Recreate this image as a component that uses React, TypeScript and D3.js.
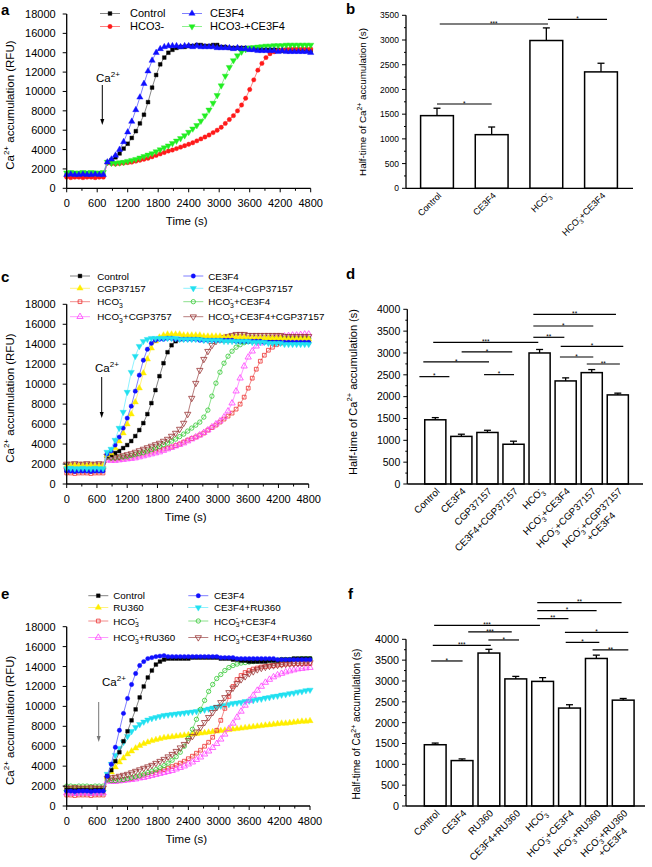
import React from 'react';
import * as d3 from 'd3';

const FONT = "'Liberation Sans', Arial, Helvetica, sans-serif";

// sample times (s) shared by every kinetic trace: 0, 80, ..., 4800
const TIME_S = d3.range(0, 4801, 80);

// ---------- Panel a traces (Ca2+ accumulation, thousands of RFU) ----------
const A_CONTROL = [
  1.35, 1.3, 1.35, 1.3, 1.35, 1.35, 1.3, 1.35, 1.3, 1.35,
  2.7, 2.9, 3.2, 3.6, 4.1, 4.6, 5.2, 5.9, 6.7, 7.6,
  8.9, 10.4, 11.7, 12.8, 13.5, 14.0, 14.3, 14.5, 14.6, 14.6,
  14.7, 14.7, 14.8, 14.8, 14.7, 14.7, 14.8, 14.8, 14.6, 14.6,
  14.5, 14.5, 14.5, 14.5, 14.5, 14.5, 14.4, 14.4, 14.3, 14.3,
  14.3, 14.3, 14.3, 14.2, 14.3, 14.2, 14.2, 14.2, 14.2, 14.2,
  14.2];
const A_CE3F4 = [
  1.4, 1.45, 1.4, 1.4, 1.45, 1.4, 1.4, 1.45, 1.4, 1.4,
  2.7, 3.0, 3.4, 4.0, 4.8, 5.8, 6.9, 8.1, 9.4, 10.8,
  12.1, 13.2, 14.0, 14.4, 14.6, 14.7, 14.7, 14.7, 14.6, 14.7,
  14.7, 14.6, 14.7, 14.6, 14.6, 14.6, 14.6, 14.5, 14.5, 14.5,
  14.5, 14.4, 14.5, 14.4, 14.4, 14.3, 14.3, 14.2, 14.2, 14.2,
  14.2, 14.2, 14.1, 14.2, 14.1, 14.1, 14.1, 14.1, 14.1, 14.1,
  14.0];
const A_HCO3 = [
  1.15, 1.1, 1.15, 1.15, 1.1, 1.15, 1.15, 1.1, 1.15, 1.15,
  2.6, 2.55, 2.5, 2.55, 2.6, 2.65, 2.7, 2.8, 2.9, 3.0,
  3.1, 3.25, 3.4, 3.55, 3.7, 3.85, 3.95, 4.1, 4.25, 4.4,
  4.55, 4.7, 4.9, 5.1, 5.3, 5.5, 5.75, 6.0, 6.3, 6.7,
  7.1, 7.5, 8.0, 8.6, 9.3, 10.2, 11.2, 12.2, 12.9, 13.5,
  13.9, 14.1, 14.25, 14.3, 14.35, 14.4, 14.4, 14.4, 14.4, 14.4,
  14.4];
const A_HCO3_CE3F4 = [
  1.6, 1.65, 1.6, 1.6, 1.65, 1.6, 1.65, 1.6, 1.6, 1.65,
  2.7, 2.6, 2.6, 2.65, 2.7, 2.8, 2.9, 3.0, 3.15, 3.3,
  3.45, 3.6, 3.8, 4.0, 4.2, 4.4, 4.65, 4.9, 5.15, 5.45,
  5.8, 6.15, 6.5, 6.95, 7.5, 8.1, 8.8, 9.6, 10.6, 11.6,
  12.5, 13.2, 13.7, 14.1, 14.35, 14.5, 14.55, 14.6, 14.65, 14.7,
  14.7, 14.75, 14.75, 14.75, 14.8, 14.8, 14.8, 14.8, 14.8, 14.8,
  14.8];

// ---------- Panel c traces ----------
const C_CONTROL = [
  1.4, 1.4, 1.45, 1.4, 1.4, 1.45, 1.4, 1.4, 1.45, 1.4,
  2.8, 2.9, 3.1, 3.3, 3.6, 3.9, 4.3, 4.8, 5.4, 6.1,
  7.0, 8.1, 9.4, 10.8, 12.1, 13.2, 13.9, 14.3, 14.5, 14.6,
  14.6, 14.6, 14.6, 14.6, 14.5, 14.5, 14.5, 14.5, 14.4, 14.4,
  14.4, 14.4, 14.4, 14.3, 14.3, 14.3, 14.3, 14.3, 14.3, 14.3,
  14.3, 14.2, 14.2, 14.2, 14.2, 14.2, 14.2, 14.2, 14.2, 14.2,
  14.2];
const C_CE3F4 = [
  1.3, 1.3, 1.25, 1.3, 1.3, 1.3, 1.25, 1.3, 1.3, 1.3,
  3.0, 3.3, 3.9, 4.7, 5.6, 6.6, 7.8, 9.3, 10.9, 12.4,
  13.5, 14.1, 14.4, 14.5, 14.5, 14.6, 14.6, 14.5, 14.5, 14.5,
  14.5, 14.5, 14.5, 14.4, 14.4, 14.4, 14.4, 14.4, 14.4, 14.4,
  14.4, 14.4, 14.3, 14.3, 14.3, 14.3, 14.3, 14.3, 14.3, 14.2,
  14.2, 14.2, 14.2, 14.2, 14.2, 14.2, 14.2, 14.2, 14.2, 14.2,
  14.2];
const C_CGP = [
  1.8, 1.8, 1.85, 1.8, 1.8, 1.8, 1.85, 1.8, 1.8, 1.8,
  2.9, 3.1, 3.6, 4.3, 5.1, 6.0, 7.0, 8.2, 9.6, 11.1,
  12.5, 13.6, 14.3, 14.7, 14.9, 15.0, 15.0, 15.0, 15.0, 14.9,
  14.9, 14.9, 14.9, 14.9, 14.8, 14.8, 14.8, 14.8, 14.8, 14.7,
  14.7, 14.7, 14.7, 14.7, 14.7, 14.6, 14.6, 14.6, 14.6, 14.6,
  14.6, 14.6, 14.6, 14.6, 14.5, 14.5, 14.5, 14.5, 14.5, 14.5,
  14.5];
const C_CE3F4_CGP = [
  1.55, 1.6, 1.55, 1.55, 1.6, 1.55, 1.55, 1.6, 1.55, 1.55,
  3.2, 3.5, 4.4, 5.6, 7.2, 9.2, 11.2, 12.8, 13.8, 14.3,
  14.5, 14.6, 14.6, 14.6, 14.6, 14.6, 14.6, 14.6, 14.5, 14.5,
  14.5, 14.5, 14.5, 14.5, 14.4, 14.4, 14.4, 14.4, 14.4, 14.3,
  14.3, 14.3, 14.3, 14.3, 14.3, 14.3, 14.2, 14.2, 14.2, 14.2,
  14.1, 14.1, 14.1, 14.1, 14.0, 14.0, 14.0, 14.0, 14.0, 14.0,
  14.0];
const C_HCO3 = [
  1.1, 1.1, 1.05, 1.1, 1.1, 1.1, 1.05, 1.1, 1.1, 1.1,
  2.6, 2.5, 2.5, 2.55, 2.6, 2.65, 2.7, 2.8, 2.9, 3.0,
  3.1, 3.2, 3.3, 3.4, 3.5, 3.6, 3.7, 3.85, 4.0, 4.2,
  4.4, 4.55, 4.7, 4.9, 5.1, 5.4, 5.65, 5.9, 6.2, 6.5,
  6.8, 7.1, 7.5, 8.0, 8.7, 9.6, 10.6, 11.5, 12.3, 12.9,
  13.4, 13.7, 13.95, 14.1, 14.2, 14.3, 14.4, 14.4, 14.5, 14.5,
  14.5];
const C_HCO3_CE3F4 = [
  1.5, 1.55, 1.5, 1.5, 1.55, 1.5, 1.5, 1.55, 1.5, 1.5,
  2.7, 2.6, 2.6, 2.65, 2.7, 2.75, 2.85, 2.95, 3.05, 3.15,
  3.3, 3.45, 3.6, 3.75, 3.95, 4.1, 4.3, 4.5, 4.75, 5.0,
  5.3, 5.6, 5.9, 6.2, 6.7, 7.4, 8.8, 10.1, 11.2, 12.1,
  12.8, 13.3, 13.7, 13.95, 14.15, 14.3, 14.4, 14.45, 14.5, 14.5,
  14.5, 14.55, 14.55, 14.6, 14.6, 14.6, 14.6, 14.6, 14.6, 14.6,
  14.6];
const C_HCO3_CGP = [
  1.7, 1.7, 1.75, 1.7, 1.7, 1.7, 1.75, 1.7, 1.7, 1.7,
  2.4, 2.35, 2.35, 2.4, 2.45, 2.5, 2.55, 2.6, 2.7, 2.8,
  2.9, 3.0, 3.1, 3.2, 3.35, 3.5, 3.65, 3.8, 3.95, 4.1,
  4.3, 4.5, 4.7, 4.9, 5.15, 5.4, 5.7, 6.0, 6.3, 6.7,
  7.3, 8.1, 9.3, 10.6, 11.8, 12.7, 13.3, 13.8, 14.1, 14.3,
  14.5, 14.6, 14.7, 14.75, 14.8, 14.85, 14.9, 14.9, 14.95, 15.0,
  15.0];
const C_HCO3_CE3F4_CGP = [
  2.0, 2.0, 2.05, 2.0, 2.0, 2.05, 2.0, 2.0, 2.05, 2.0,
  2.8, 2.7, 2.7, 2.75, 2.85, 2.95, 3.05, 3.2, 3.35, 3.5,
  3.65, 3.8, 3.95, 4.1, 4.3, 4.5, 4.8, 5.1, 5.5, 6.1,
  7.0, 8.6, 10.1, 11.4, 12.5, 13.3, 13.9, 14.3, 14.5, 14.7,
  14.8, 14.9, 15.0, 15.0, 15.0, 14.9, 14.9, 14.9, 14.9, 14.9,
  14.9, 14.9, 14.9, 14.9, 14.8, 14.8, 14.8, 14.8, 14.8, 14.8,
  14.8];

// ---------- Panel e traces ----------
const E_CONTROL = [
  1.6, 1.6, 1.55, 1.6, 1.6, 1.6, 1.55, 1.6, 1.6, 1.6,
  3.0, 3.6, 4.5, 5.4, 6.5, 7.5, 8.6, 9.7, 10.9, 12.0,
  12.9, 13.6, 14.2, 14.5, 14.7, 14.8, 14.8, 14.8, 14.8, 14.8,
  14.8, 14.9, 14.9, 14.9, 14.9, 14.9, 14.9, 14.9, 14.8, 14.8,
  14.8, 14.7, 14.7, 14.6, 14.6, 14.5, 14.5, 14.5, 14.5, 14.5,
  14.6, 14.6, 14.6, 14.7, 14.7, 14.7, 14.8, 14.8, 14.8, 14.8,
  14.8];
const E_CE3F4 = [
  1.5, 1.5, 1.45, 1.5, 1.5, 1.5, 1.45, 1.5, 1.5, 1.5,
  3.0, 4.2, 5.9, 7.6, 9.3, 10.8, 12.2, 13.3, 14.1, 14.5,
  14.8, 14.9, 15.0, 15.05, 15.1, 15.0, 15.0, 15.0, 15.0, 15.0,
  15.0, 15.0, 15.0, 15.0, 15.0, 15.0, 15.0, 15.0, 14.9, 14.9,
  14.9, 14.9, 14.8, 14.8, 14.8, 14.8, 14.8, 14.8, 14.8, 14.8,
  14.8, 14.8, 14.7, 14.7, 14.7, 14.7, 14.7, 14.7, 14.7, 14.7,
  14.7];
const E_RU360 = [
  1.7, 1.7, 1.75, 1.7, 1.7, 1.7, 1.75, 1.7, 1.7, 1.7,
  2.9, 3.4, 3.9, 4.4, 4.8, 5.2, 5.5, 5.8, 6.05, 6.25,
  6.4, 6.55, 6.65, 6.75, 6.85, 6.9, 6.95, 7.0, 7.05, 7.1,
  7.15, 7.2, 7.25, 7.3, 7.35, 7.4, 7.45, 7.5, 7.55, 7.6,
  7.65, 7.7, 7.75, 7.8, 7.85, 7.9, 7.95, 8.0, 8.05, 8.1,
  8.15, 8.2, 8.25, 8.3, 8.3, 8.35, 8.4, 8.45, 8.5, 8.5,
  8.55];
const E_CE3F4_RU360 = [
  1.4, 1.4, 1.35, 1.4, 1.4, 1.4, 1.35, 1.4, 1.4, 1.4,
  3.2, 4.2, 5.1, 5.8, 6.4, 7.0, 7.5, 7.9, 8.2, 8.45,
  8.65, 8.8, 8.9, 9.0, 9.1, 9.15, 9.2, 9.25, 9.3, 9.35,
  9.4, 9.45, 9.5, 9.6, 9.65, 9.75, 9.85, 9.95, 10.05, 10.1,
  10.2, 10.3, 10.35, 10.4, 10.5, 10.55, 10.6, 10.7, 10.75, 10.85,
  10.9, 11.0, 11.05, 11.15, 11.2, 11.3, 11.35, 11.45, 11.5, 11.6,
  11.65];
const E_HCO3 = [
  1.1, 1.1, 1.05, 1.1, 1.1, 1.1, 1.05, 1.1, 1.1, 1.1,
  2.6, 2.55, 2.55, 2.6, 2.65, 2.7, 2.75, 2.85, 2.95, 3.05,
  3.15, 3.25, 3.35, 3.5, 3.65, 3.8, 3.95, 4.1, 4.3, 4.5,
  4.75, 5.0, 5.3, 5.6, 6.0, 6.4, 6.9, 7.6, 8.6, 9.8,
  11.0, 12.0, 12.7, 13.1, 13.4, 13.6, 13.75, 13.85, 13.95, 14.0,
  14.05, 14.1, 14.15, 14.2, 14.25, 14.25, 14.3, 14.3, 14.3, 14.3,
  14.3];
const E_HCO3_CE3F4 = [
  2.0, 2.0, 1.95, 2.0, 2.0, 2.0, 1.95, 2.0, 2.0, 2.0,
  2.6, 2.55, 2.55, 2.6, 2.65, 2.75, 2.85, 2.95, 3.05, 3.2,
  3.35, 3.5, 3.65, 3.85, 4.05, 4.3, 4.6, 4.95, 5.4, 6.0,
  6.8, 7.7, 8.7, 9.7, 10.6, 11.5, 12.2, 12.8, 13.2, 13.6,
  13.9, 14.1, 14.25, 14.35, 14.4, 14.45, 14.5, 14.55, 14.6, 14.6,
  14.6, 14.65, 14.65, 14.7, 14.7, 14.7, 14.75, 14.75, 14.8, 14.8,
  14.8];
const E_HCO3_RU360 = [
  1.3, 1.3, 1.25, 1.3, 1.3, 1.3, 1.25, 1.3, 1.3, 1.3,
  2.5, 2.45, 2.45, 2.5, 2.55, 2.6, 2.65, 2.7, 2.8, 2.85,
  2.95, 3.05, 3.15, 3.25, 3.35, 3.45, 3.55, 3.7, 3.85, 4.0,
  4.2, 4.4, 4.65, 4.9, 5.2, 5.5, 5.85, 6.25, 6.7, 7.2,
  7.75, 8.3, 8.9, 9.5, 10.1, 10.6, 11.1, 11.6, 12.0, 12.4,
  12.7, 12.95, 13.15, 13.3, 13.45, 13.55, 13.65, 13.75, 13.8, 13.85,
  13.9];
const E_HCO3_CE3F4_RU360 = [
  1.8, 1.8, 1.85, 1.8, 1.8, 1.8, 1.85, 1.8, 1.8, 1.8,
  2.8, 2.85, 2.9, 3.0, 3.1, 3.2, 3.35, 3.5, 3.65, 3.8,
  3.95, 4.1, 4.3, 4.5, 4.7, 4.95, 5.2, 5.5, 5.85, 6.2,
  6.6, 7.0, 7.45, 7.9, 8.4, 8.9, 9.4, 9.9, 10.4, 10.9,
  11.4, 11.85, 12.3, 12.7, 13.0, 13.3, 13.5, 13.7, 13.85, 13.95,
  14.05, 14.1, 14.15, 14.2, 14.25, 14.3, 14.3, 14.35, 14.35, 14.4,
  14.4];

// ---------- Bar panels (half-time, s) ----------
const B_CATS = ['Control', 'CE3F4', 'HCO_3^-', 'HCO_3^-+CE3F4'];
const B_MEAN = [1470, 1085, 2990, 2355];
const B_ERR = [150, 155, 255, 175];
// [from category index, to category index, height (s), label]
const B_SIG: [number, number, number, string][] = [
  [0.05, 2.03, 3324, '***'],
  [2.03, 3.11, 3419, '*'],
  [0.0, 1.0, 1705, '*'],
];

const D_CATS = ['Control', 'CE3F4', 'CGP37157', 'CE3F4+CGP37157', 'HCO_3^-', 'HCO_3^-+CE3F4', 'HCO_3^-+CGP37157', 'HCO_3^-+CGP37157\n+CE3F4'];
const D_MEAN = [1470, 1090, 1180, 910, 3000, 2360, 2550, 2040];
const D_ERR = [50, 50, 50, 70, 80, 70, 70, 40];
const D_SIG: [number, number, number, string][] = [
  [-0.61, 0.54, 2458, '*'],
  [-0.46, 2.06, 2794, '*'],
  [1.01, 2.95, 3023, '*'],
  [1.87, 3.02, 2504, '*'],
  [-0.08, 3.95, 3244, '***'],
  [3.76, 6.93, 3885, '**'],
  [3.76, 6.06, 3618, '*'],
  [3.76, 4.95, 3359, '**'],
  [4.81, 7.21, 3153, '*'],
  [4.78, 6.06, 2908, '*'],
  [5.81, 7.08, 2748, '**'],
];

const F_CATS = ['Control', 'CE3F4', 'RU360', 'CE3F4+RU360', 'HCO_3^-', 'HCO_3^-+CE3F4', 'HCO_3^-+RU360', 'HCO_3^-+RU360\n+CE3F4'];
const F_MEAN = [1470, 1090, 3670, 3050, 2990, 2350, 3540, 2540];
const F_ERR = [40, 40, 90, 60, 90, 80, 80, 40];
const F_SIG: [number, number, number, string][] = [
  [-0.15, 1.02, 3480, '*'],
  [-0.09, 2.07, 3856, '***'],
  [1.23, 2.85, 4176, '***'],
  [1.98, 3.12, 3984, '*'],
  [-0.04, 3.9, 4336, '***'],
  [3.8, 6.94, 4880, '**'],
  [3.8, 6.01, 4688, '*'],
  [3.8, 4.96, 4496, '**'],
  [4.83, 7.19, 4168, '*'],
  [4.86, 6.11, 3928, '*'],
  [5.86, 7.19, 3744, '**'],
];

// ---------- helpers ----------
type Seg = { t: string; k: 'n' | 'sub' | 'sup' };
function parseRich(s: string): Seg[] {
  const segs: Seg[] = [];
  let i = 0;
  let buf = '';
  while (i < s.length) {
    const c = s[i];
    if (c === '_' || c === '^') {
      if (buf) { segs.push({ t: buf, k: 'n' }); buf = ''; }
      let t = '';
      if (s[i + 1] === '{') {
        const j = s.indexOf('}', i);
        t = s.slice(i + 2, j);
        i = j + 1;
      } else {
        t = s[i + 1];
        i += 2;
      }
      segs.push({ t, k: c === '_' ? 'sub' : 'sup' });
    } else {
      buf += c;
      i++;
    }
  }
  if (buf) segs.push({ t: buf, k: 'n' });
  return segs;
}

let _ctx: CanvasRenderingContext2D | null = null;
function measure(s: string, fs: number): number {
  if (!_ctx) _ctx = document.createElement('canvas').getContext('2d');
  if (!_ctx) return s.length * fs * 0.55;
  let w = 0;
  for (const sg of parseRich(s)) {
    const f = sg.k === 'n' ? fs : fs * 0.7;
    _ctx.font = `${f}px ${FONT}`;
    if (sg.k === 'sup' && w > 0) continue;
    w += _ctx.measureText(sg.t).width;
  }
  return w;
}

function Rich(props: { text: string; fs: number; [k: string]: any }) {
  const { text, fs, ...rest } = props;
  const segs = parseRich(text);
  let cur = 0;
  const out: any[] = [];
  segs.forEach((sg, i) => {
    const small = sg.k !== 'n';
    const target = sg.k === 'sub' ? 0.3 * fs : sg.k === 'sup' ? -0.42 * fs : 0;
    const dy = target - cur;
    cur = target;
    let dx = 0;
    if (sg.k === 'sup' && i > 0 && segs[i - 1].k === 'sub') dx = -0.39 * fs * segs[i - 1].t.length;
    if (sg.k === 'n' && i > 1 && segs[i - 1].k === 'sup' && segs[i - 2].k === 'sub') dx = 0.16 * fs;
    out.push(
      <tspan key={i} dy={dy ? dy : undefined} dx={dx ? dx : undefined} fontSize={small ? 0.7 * fs : fs}>
        {sg.t}
      </tspan>
    );
  });
  return (
    <text fontFamily={FONT} fontSize={fs} {...rest}>
      {out}
    </text>
  );
}

type Marker = 'square' | 'circle' | 'tri' | 'itri';
const SYM: Record<Marker, string> = {
  square: d3.symbol(d3.symbolSquare, 14)() as string,
  circle: d3.symbol(d3.symbolCircle, 15)() as string,
  tri: d3.symbol(d3.symbolTriangle, 17)() as string,
  itri: d3.symbol(d3.symbolTriangle, 17)() as string,
};

type SeriesDef = {
  name: string;
  values: number[];
  color: string;
  line: string;
  marker: Marker;
  open: boolean;
  row: number;
  col: number;
};

function MarkerAt({ m, x, y, color, open }: { m: Marker; x: number; y: number; color: string; open: boolean }) {
  return (
    <path
      d={SYM[m]}
      transform={`translate(${x},${y})${m === 'itri' ? ' rotate(180)' : ''}`}
      fill={open ? 'none' : color}
      stroke={color}
      strokeWidth={open ? 0.8 : 0.4}
    />
  );
}

type LineLayout = { l: number; r: number; t: number; b: number };

function LinePanel(props: {
  L: LineLayout;
  series: SeriesDef[];
  legendRows: number[];
  legendCols: { x1: number; x2: number; tx: number }[];
  legendFs: number;
  arrow: { x: number; y1: number; y2: number; tx: number; ty: number; color: string };
  letter: string;
  letterPos: [number, number];
}) {
  const { L, series } = props;
  const x = d3.scaleLinear().domain([0, 4800]).range([L.l, L.r]);
  const y = d3.scaleLinear().domain([0, 18]).range([L.b, L.t]);
  const line = d3.line<number>().x((_, i) => x(TIME_S[i])).y((v) => y(v));
  const xMajor = d3.range(0, 4801, 600);
  const xMinor = d3.range(300, 4800, 600);
  const yMajor = d3.range(0, 18.1, 2);
  const a = props.arrow;
  return (
    <g>
      <text x={props.letterPos[0]} y={props.letterPos[1]} fontFamily={FONT} fontWeight="bold" fontSize={15}>
        {props.letter}
      </text>
      {series.map((s) => (
        <g key={s.name}>
          <path d={line(s.values) || ''} fill="none" stroke={s.line} strokeWidth={0.9} />
          {s.values.map((v, i) => (
            <MarkerAt key={i} m={s.marker} x={x(TIME_S[i])} y={y(v)} color={s.color} open={s.open} />
          ))}
        </g>
      ))}
      {/* axes */}
      <line x1={L.l} x2={L.r} y1={L.b} y2={L.b} stroke="#000" strokeWidth={1.3} />
      <line x1={L.l} x2={L.l} y1={L.b} y2={L.t} stroke="#000" strokeWidth={1.3} />
      {xMajor.map((v) => (
        <g key={'xm' + v}>
          <line x1={x(v)} x2={x(v)} y1={L.b} y2={L.b + 4} stroke="#000" strokeWidth={1} />
          <text x={x(v)} y={L.b + 19} textAnchor="middle" fontFamily={FONT} fontSize={11}>
            {v}
          </text>
        </g>
      ))}
      {xMinor.map((v) => (
        <line key={'xn' + v} x1={x(v)} x2={x(v)} y1={L.b} y2={L.b + 2.5} stroke="#000" strokeWidth={1} />
      ))}
      {yMajor.map((v) => (
        <g key={'ym' + v}>
          <line x1={L.l - 4} x2={L.l} y1={y(v)} y2={y(v)} stroke="#000" strokeWidth={1} />
          <text x={L.l - 11} y={y(v) + 4} textAnchor="end" fontFamily={FONT} fontSize={11}>
            {Math.round(v * 1000)}
          </text>
        </g>
      ))}
      <text x={(L.l + L.r) / 2 - 2} y={L.b + 37} textAnchor="middle" fontFamily={FONT} fontSize={11.5}>
        Time (s)
      </text>
      <Rich
        text="Ca^{2+} accumulation (RFU)"
        fs={11.5}
        textAnchor="middle"
        transform={`translate(14,${(L.t + L.b) / 2 + 4}) rotate(-90)`}
      />
      {/* Ca2+ addition arrow */}
      <Rich text="Ca^{2+}" fs={11.5} x={a.tx} y={a.ty} />
      <line x1={a.x} x2={a.x} y1={a.y1} y2={a.y2 - 5} stroke={a.color} strokeWidth={1} />
      <path d={`M${a.x - 2},${a.y2 - 6} L${a.x + 2},${a.y2 - 6} L${a.x},${a.y2} Z`} fill={a.color} />
      {/* legend */}
      {series.map((s) => {
        const c = props.legendCols[s.col];
        const ly = props.legendRows[s.row];
        return (
          <g key={'lg' + s.name}>
            <line x1={c.x1} x2={c.x2} y1={ly} y2={ly} stroke={s.line} strokeWidth={0.9} />
            <MarkerAt m={s.marker} x={(c.x1 + c.x2) / 2} y={ly} color={s.color} open={s.open} />
            <Rich text={s.name} fs={props.legendFs} x={c.tx} y={ly + props.legendFs * 0.36} />
          </g>
        );
      })}
    </g>
  );
}

type BarLayout = { ax: number; xEnd: number; t: number; b: number; c0: number; cN: number; pad: number; max: number };

function BarPanel(props: {
  L: BarLayout;
  cats: string[];
  mean: number[];
  err: number[];
  sig: [number, number, number, string][];
  tickFs: number;
  catFs: number;
  ylabFs: number;
  ylab: [number, number];
  letter: string;
  letterPos: [number, number];
}) {
  const { L, cats } = props;
  const n = cats.length;
  const step = (L.cN - L.c0) / (n - 1);
  const xb = d3
    .scaleBand<string>()
    .domain(cats)
    .range([L.c0 - step / 2, L.cN + step / 2])
    .paddingInner(L.pad)
    .paddingOuter(L.pad / 2);
  const bw = xb.bandwidth();
  const y = d3.scaleLinear().domain([0, L.max]).range([L.b, L.t]);
  const xi = d3
    .scaleLinear()
    .domain([0, n - 1])
    .range([(xb(cats[0]) as number) + bw / 2, (xb(cats[n - 1]) as number) + bw / 2]);
  const major = d3.range(0, L.max + 1, 500);
  const minor = d3.range(250, L.max, 500);
  return (
    <g>
      <text x={props.letterPos[0]} y={props.letterPos[1]} fontFamily={FONT} fontWeight="bold" fontSize={15}>
        {props.letter}
      </text>
      {cats.map((c, i) => {
        const x0 = xb(c) as number;
        const cx = x0 + bw / 2;
        const top = y(props.mean[i]);
        const et = y(props.mean[i] + props.err[i]);
        return (
          <g key={c}>
            <line x1={cx} x2={cx} y1={top} y2={et} stroke="#000" strokeWidth={1.3} />
            <line x1={cx - 3.5} x2={cx + 3.5} y1={et} y2={et} stroke="#000" strokeWidth={1.3} />
            <rect x={x0} y={top} width={bw} height={L.b - top} fill="#fff" stroke="#000" strokeWidth={1.5} />
          </g>
        );
      })}
      <line x1={L.ax} x2={L.xEnd} y1={L.b} y2={L.b} stroke="#000" strokeWidth={1.3} />
      <line x1={L.ax} x2={L.ax} y1={L.b} y2={L.t} stroke="#000" strokeWidth={1.3} />
      {major.map((v) => (
        <g key={'m' + v}>
          <line x1={L.ax - 4} x2={L.ax} y1={y(v)} y2={y(v)} stroke="#000" strokeWidth={1} />
          <text x={L.ax - 7} y={y(v) + props.tickFs * 0.36} textAnchor="end" fontFamily={FONT} fontSize={props.tickFs}>
            {v}
          </text>
        </g>
      ))}
      {minor.map((v) => (
        <line key={'n' + v} x1={L.ax - 2} x2={L.ax} y1={y(v)} y2={y(v)} stroke="#000" strokeWidth={1} />
      ))}
      {props.sig.map(([a, b, h, lab], i) => (
        <g key={'s' + i}>
          <line x1={xi(a)} x2={xi(b)} y1={y(h)} y2={y(h)} stroke="#000" strokeWidth={1.2} />
          <text x={(xi(a) + xi(b)) / 2} y={y(h) + 1.8} textAnchor="middle" fontFamily={FONT} fontSize={6.5}>
            {lab}
          </text>
        </g>
      ))}
      {cats.map((c) => {
        const cx = (xb(c) as number) + bw / 2;
        const parts = c.split('\n');
        const w1 = measure(parts[0], props.catFs);
        return (
          <g key={'l' + c} transform={`translate(${cx + 5},${L.b + 8}) rotate(-45)`}>
            <Rich text={parts[0]} fs={props.catFs} textAnchor="end" />
            {parts[1] ? (
              <Rich
                text={parts[1]}
                fs={props.catFs}
                textAnchor="middle"
                x={-w1 / 2}
                y={props.catFs * 1.25}
              />
            ) : null}
          </g>
        );
      })}
      <Rich
        text="Half-time of Ca^{2+} accumulation (s)"
        fs={props.ylabFs}
        textAnchor="middle"
        transform={`translate(${props.ylab[0]},${props.ylab[1]}) rotate(-90)`}
      />
    </g>
  );
}

// ---------- series styling ----------
const BLACK = '#000000', RED = '#ff1a1a', BLUE = '#1010ff', GREEN = '#22ee22';
const YELLOW = '#ffee00', CYAN = '#22e0f0', ORED = '#ee3030', OGREEN = '#30c830', MAGENTA = '#ff40ff', BROWN = '#993333';

const A_SERIES: SeriesDef[] = [
  { name: 'Control', values: A_CONTROL, color: BLACK, line: '#777', marker: 'square', open: false, row: 0, col: 0 },
  { name: 'HCO3-', values: A_HCO3, color: RED, line: '#ff7070', marker: 'circle', open: false, row: 1, col: 0 },
  { name: 'HCO3-+CE3F4', values: A_HCO3_CE3F4, color: GREEN, line: '#80ee80', marker: 'itri', open: false, row: 1, col: 1 },
  { name: 'CE3F4', values: A_CE3F4, color: BLUE, line: '#7070ff', marker: 'tri', open: false, row: 0, col: 1 },
];

const C_SERIES: SeriesDef[] = [
  { name: 'HCO_3^-', values: C_HCO3, color: ORED, line: '#f08080', marker: 'square', open: true, row: 2, col: 0 },
  { name: 'HCO_3^-+CGP3757', values: C_HCO3_CGP, color: MAGENTA, line: '#ff90ff', marker: 'tri', open: true, row: 3, col: 0 },
  { name: 'HCO_3^-+CE3F4', values: C_HCO3_CE3F4, color: OGREEN, line: '#80dd80', marker: 'circle', open: true, row: 2, col: 1 },
  { name: 'HCO_3^-+CE3F4+CGP37157', values: C_HCO3_CE3F4_CGP, color: BROWN, line: '#b07070', marker: 'itri', open: true, row: 3, col: 1 },
  { name: 'Control', values: C_CONTROL, color: BLACK, line: '#777', marker: 'square', open: false, row: 0, col: 0 },
  { name: 'CGP37157', values: C_CGP, color: YELLOW, line: '#fff070', marker: 'tri', open: false, row: 1, col: 0 },
  { name: 'CE3F4', values: C_CE3F4, color: BLUE, line: '#7070ff', marker: 'circle', open: false, row: 0, col: 1 },
  { name: 'CE3F4+CGP37157', values: C_CE3F4_CGP, color: CYAN, line: '#80f0ff', marker: 'itri', open: false, row: 1, col: 1 },
];

const E_SERIES: SeriesDef[] = [
  { name: 'RU360', values: E_RU360, color: YELLOW, line: '#fff070', marker: 'tri', open: false, row: 1, col: 0 },
  { name: 'CE3F4+RU360', values: E_CE3F4_RU360, color: CYAN, line: '#80f0ff', marker: 'itri', open: false, row: 1, col: 1 },
  { name: 'HCO_3^-', values: E_HCO3, color: ORED, line: '#f08080', marker: 'square', open: true, row: 2, col: 0 },
  { name: 'HCO_3^-+RU360', values: E_HCO3_RU360, color: MAGENTA, line: '#ff90ff', marker: 'tri', open: true, row: 3, col: 0 },
  { name: 'HCO_3^-+CE3F4', values: E_HCO3_CE3F4, color: OGREEN, line: '#80dd80', marker: 'circle', open: true, row: 2, col: 1 },
  { name: 'HCO_3^-+CE3F4+RU360', values: E_HCO3_CE3F4_RU360, color: BROWN, line: '#b07070', marker: 'itri', open: true, row: 3, col: 1 },
  { name: 'Control', values: E_CONTROL, color: BLACK, line: '#777', marker: 'square', open: false, row: 0, col: 0 },
  { name: 'CE3F4', values: E_CE3F4, color: BLUE, line: '#7070ff', marker: 'circle', open: false, row: 0, col: 1 },
];

export default function App() {
  return (
    <svg
      width={652}
      height={867}
      viewBox="0 0 652 867"
      style={{ position: 'absolute', left: 0, top: 0, background: '#fff', display: 'block' }}
    >
      <rect x={0} y={0} width={652} height={867} fill="#fff" />
      <LinePanel
        L={{ l: 66.7, r: 310.7, t: 14, b: 188.3 }}
        series={A_SERIES}
        legendRows={[13.5, 26.5]}
        legendCols={[{ x1: 100, x2: 120, tx: 130 }, { x1: 182, x2: 202, tx: 210 }]}
        legendFs={11}
        arrow={{ x: 102.3, y1: 85, y2: 125, tx: 96, ty: 82, color: '#000' }}
        letter="a"
        letterPos={[1, 15]}
      />
      <LinePanel
        L={{ l: 66.7, r: 308.7, t: 304.3, b: 484 }}
        series={C_SERIES}
        legendRows={[276, 288.3, 301.7, 316.7]}
        legendCols={[{ x1: 70, x2: 90, tx: 97.3 }, { x1: 183.3, x2: 203.3, tx: 208.3 }]}
        legendFs={9.8}
        arrow={{ x: 101.7, y1: 377, y2: 418, tx: 95, ty: 372, color: '#000' }}
        letter="c"
        letterPos={[1, 282]}
      />
      <LinePanel
        L={{ l: 66.7, r: 310, t: 626.7, b: 806 }}
        series={E_SERIES}
        legendRows={[595.7, 607.5, 621, 637.5]}
        legendCols={[{ x1: 88.3, x2: 108.3, tx: 113.3 }, { x1: 188.3, x2: 208.3, tx: 214 }]}
        legendFs={9.8}
        arrow={{ x: 98.7, y1: 702, y2: 742, tx: 102, ty: 686, color: '#777' }}
        letter="e"
        letterPos={[1, 598.5]}
      />
      <BarPanel
        L={{ ax: 406, xEnd: 633, t: 15.3, b: 188.3, c0: 437, cN: 601, pad: 0.4, max: 3500 }}
        cats={B_CATS}
        mean={B_MEAN}
        err={B_ERR}
        sig={B_SIG}
        tickFs={8.5}
        catFs={9}
        ylabFs={9.8}
        ylab={[366, 102]}
        letter="b"
        letterPos={[346, 13.5]}
      />
      <BarPanel
        L={{ ax: 407.3, xEnd: 643, t: 309.3, b: 484, c0: 435.3, cN: 617.8, pad: 0.19, max: 4000 }}
        cats={D_CATS}
        mean={D_MEAN}
        err={D_ERR}
        sig={D_SIG}
        tickFs={10.5}
        catFs={9.8}
        ylabFs={11}
        ylab={[357, 392]}
        letter="d"
        letterPos={[346, 278.5]}
      />
      <BarPanel
        L={{ ax: 406, xEnd: 645, t: 639.3, b: 806, c0: 435.2, cN: 623.2, pad: 0.19, max: 4000 }}
        cats={F_CATS}
        mean={F_MEAN}
        err={F_ERR}
        sig={F_SIG}
        tickFs={10.8}
        catFs={9.8}
        ylabFs={10}
        ylab={[360, 724]}
        letter="f"
        letterPos={[348, 598.5]}
      />
    </svg>
  );
}
